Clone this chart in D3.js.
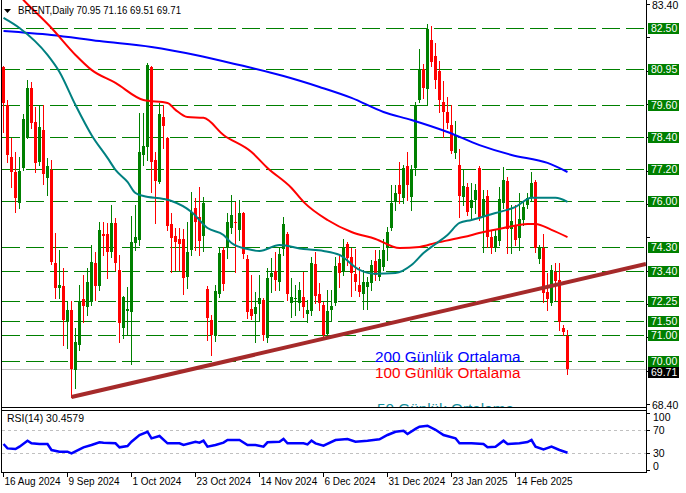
<!DOCTYPE html>
<html><head><meta charset="utf-8">
<script src="https://cdn.jsdelivr.net/npm/d3@7"></script>
<style>html,body{margin:0;padding:0;background:#fff;overflow:hidden}svg{display:block}</style>
</head><body><svg id="c" width="686" height="493"></svg>
<script>
// ---------- DATA ----------
const opens=[81.04,79.61,77.66,77.10,75.94,77.25,78.41,80.25,78.98,77.48,78.68,76.88,77.18,73.69,72.75,72.83,71.48,71.93,69.68,70.61,72.34,72.04,72.23,73.69,72.83,74.78,74.78,74.10,75.19,73.43,71.25,71.89,71.85,74.44,74.55,77.74,78.04,81.04,77.55,76.73,79.16,78.38,75.15,74.70,74.59,74.59,73.16,74.18,75.75,75.41,74.70,72.71,71.55,70.95,72.53,74.18,74.25,75.00,75.23,74.93,75.56,73.84,71.96,71.78,72.15,72.30,70.88,73.16,73.39,72.98,74.21,74.78,72.19,72.34,72.19,72.41,71.78,71.89,73.65,72.53,72.11,71.03,71.93,72.19,73.69,73.35,74.40,73.91,73.28,72.86,72.53,72.79,72.94,73.76,73.16,73.54,74.25,75.00,75.98,76.61,76.13,77.33,76.16,77.25,79.80,80.96,80.21,82.05,81.45,80.89,79.73,79.35,78.86,77.81,77.36,76.16,76.54,75.75,76.05,77.25,75.41,76.20,74.66,74.25,74.51,75.94,76.76,74.96,75.08,74.63,75.30,75.86,76.13,76.73,73.84,74.25,72.60,72.19,73.35,73.05,71.25,70.95];
const highs=[81.08,79.80,78.38,77.85,77.66,79.28,80.55,80.48,79.54,79.61,79.61,77.63,77.55,74.81,74.18,73.50,72.23,72.26,71.25,72.86,73.24,73.50,74.36,74.10,75.23,75.23,75.19,75.86,75.38,73.99,72.45,72.79,75.45,75.86,79.31,79.31,81.19,81.08,77.85,79.69,79.61,78.41,75.56,75.00,75.00,74.96,75.23,76.35,76.13,76.54,76.16,72.83,71.74,72.86,74.29,74.29,75.56,76.24,75.98,76.05,75.60,73.99,73.24,72.60,73.24,72.38,73.50,73.88,74.10,74.25,75.41,74.85,73.13,72.86,72.98,73.35,72.30,73.91,74.10,72.94,72.23,72.68,72.68,73.91,73.99,74.59,74.48,74.25,74.21,73.54,73.43,73.16,73.80,74.18,74.18,74.59,75.04,76.61,76.61,77.48,77.36,77.85,77.36,79.73,81.71,81.15,82.65,82.58,81.94,81.26,80.51,79.91,79.61,79.01,77.96,77.18,76.69,76.69,76.65,77.33,76.43,76.43,74.93,74.93,76.54,77.29,76.91,75.86,75.86,76.31,76.01,76.31,77.10,76.80,74.36,74.78,73.31,73.61,73.69,73.69,71.36,71.16];
const lows=[78.60,77.48,76.54,75.60,75.75,77.18,78.38,78.75,77.10,77.36,76.65,76.24,73.65,72.38,72.38,70.61,70.50,68.66,69.00,70.43,71.48,71.74,72.11,72.30,72.68,73.99,73.13,73.91,73.43,70.73,70.88,70.99,69.90,74.18,74.36,77.36,77.55,76.35,75.19,76.69,78.00,74.93,73.35,73.43,73.43,72.53,72.75,73.99,74.18,73.99,74.14,70.80,70.24,70.76,72.41,72.68,73.88,74.81,73.35,74.55,73.88,71.63,71.59,70.73,71.55,70.80,70.73,72.60,72.68,72.68,73.99,72.30,71.66,71.74,71.93,71.66,71.48,71.74,72.19,71.93,70.88,70.91,71.55,72.11,72.79,73.24,73.61,72.45,72.68,72.45,71.96,71.96,72.68,73.05,73.05,73.43,73.80,74.93,75.68,75.94,75.94,76.05,75.68,76.99,79.73,79.88,79.61,81.08,80.25,79.35,78.41,78.75,77.81,77.63,75.41,75.86,75.49,75.30,75.56,75.30,74.10,74.29,74.06,74.14,74.36,75.75,74.06,74.06,74.36,74.18,75.11,75.75,76.05,74.10,73.69,72.23,71.93,72.11,72.30,71.18,70.99,69.51];
const closes=[79.69,77.74,77.10,76.13,77.14,79.09,80.25,78.94,77.44,78.79,77.03,77.33,73.73,72.75,72.86,71.55,71.93,69.71,70.73,72.23,72.08,72.98,73.73,72.83,74.93,74.70,74.10,75.19,73.69,71.44,72.41,71.96,74.48,74.66,77.85,78.08,81.11,77.48,76.76,79.28,78.83,75.08,74.63,74.48,74.40,73.13,74.10,75.60,75.23,74.51,75.94,71.63,70.99,72.64,74.06,72.90,75.23,75.49,75.19,75.56,74.03,71.85,71.70,72.04,72.38,70.99,73.13,73.31,73.05,74.03,75.15,72.53,72.41,72.38,72.68,72.04,71.93,73.69,72.45,72.19,70.99,71.89,72.08,73.58,73.31,74.29,73.88,73.31,72.98,72.60,72.98,72.98,73.61,73.24,73.84,74.18,74.85,75.94,76.31,76.28,77.25,76.61,77.21,79.61,80.96,80.25,82.46,81.23,80.55,79.80,79.35,78.94,77.89,78.49,76.20,76.58,75.60,76.05,76.43,75.41,76.09,74.66,74.25,74.70,76.09,76.80,74.96,75.26,74.55,75.34,75.79,76.13,76.69,74.25,74.25,72.56,72.34,73.43,73.01,71.48,71.10,69.71];

// moving averages read at bar indices: [bar, value]
const ma200=[[0,82.39],[12,82.24],[24,82.01],[37,81.79],[48,81.49],[59,81.11],[70,80.70],[79,80.29],[87,79.88],[95,79.35],[102,79.05],[111,78.60],[119,78.11],[127,77.74],[136,77.44],[141,77.10]];
const ma100=[[0,84.37],[5,83.55],[12,82.50],[18,81.49],[22,80.93],[28,80.44],[35,79.80],[41,79.69],[43,79.43],[46,79.16],[50,79.13],[55,78.49],[62,77.85],[66,77.25],[72,76.50],[75,75.98],[81,75.30],[87,74.85],[93,74.59],[99,74.25],[104,74.29],[108,74.44],[115,74.66],[120,74.85],[125,75.00],[131,75.15],[133,75.15],[137,74.93],[141,74.66]];
const ma50=[[0,82.88],[4,82.50],[11,81.49],[14,80.85],[18,79.61],[22,78.49],[26,77.63],[28,77.18],[31,76.73],[33,76.31],[35,76.20],[40,76.09],[42,76.01],[47,75.60],[51,75.00],[55,74.74],[57,74.44],[61,74.21],[64,74.14],[69,74.36],[75,74.21],[80,74.14],[84,73.99],[89,73.43],[93,73.28],[98,73.31],[102,73.61],[105,74.06],[108,74.40],[111,74.74],[114,75.19],[117,75.30],[123,75.56],[128,75.79],[132,76.13],[138,76.13],[141,75.98]];
const rsi=[[0,45.6],[1,38],[3,36.8],[4,41],[6,51.4],[7,46.8],[9,45.6],[11,45.6],[12,35.2],[14,32.3],[16,32.3],[17,29.4],[19,36.4],[20,39.9],[22,43.9],[24,48.6],[25,48],[28,46.8],[29,39.9],[31,42.2],[32,49.7],[34,61.3],[36,67],[37,55.5],[39,59.6],[41,46.8],[44,46.8],[45,43.9],[48,49.7],[49,48],[50,51.4],[51,41],[53,43.9],[55,48],[56,52.6],[59,52.6],[61,43.9],[63,43.9],[65,41],[66,48.6],[69,49.7],[70,54.4],[71,46.8],[75,46.8],[76,45],[77,51.4],[78,46.8],[80,42.8],[83,52.6],[86,54.4],[88,49.7],[91,51.4],[94,53.8],[96,61.3],[98,67],[100,68.8],[101,63],[103,72],[104,75.8],[106,77.5],[108,70.4],[110,61.3],[113,55.5],[114,46.8],[117,46.8],[120,45.6],[121,39.9],[123,41],[125,51.4],[126,45.6],[129,46.8],[131,49],[132,52.6],[133,41],[135,36.4],[137,41],[139,35.2],[141,30.46]];

const levels=[82.50,80.95,79.60,78.40,77.20,76.00,74.30,73.40,72.25,71.50,71.00,70.00];
const priceTicks=[83.40,82.15,80.90,79.65,78.40,77.15,75.90,74.65,73.40,72.15,70.90,69.65,68.40];
const dateLabels=["16 Aug 2024","9 Sep 2024","1 Oct 2024","23 Oct 2024","14 Nov 2024","6 Dec 2024","31 Dec 2024","23 Jan 2025","14 Feb 2025"];
const dateBars=[0,16,32,48,64,80,96,112,128];
const trendBars=[17,160.6];
const trendPrices=[68.66,73.65];
const lastPrice=69.71;
const rsiLevels=[70,30];
const rsiTicks=[100,70,30,0];
const legendNames=["200 Günlük Ortalama","100 Günlük Ortalama","50 Günlük Ortalama"];

// ---------- CHART ----------
const svg=d3.select("#c");
const FONT="'Liberation Sans',Arial,sans-serif";
const x=d3.scaleLinear().domain([-0.375,160.625]).range([2,646]);
const y=d3.scaleLinear().domain([68.40,83.40]).range([404,4]);
const yr=d3.scaleLinear().domain([0,100]).range([470.25,412.75]);
const cr=v=>Math.round(v)+0.5;

const defs=svg.append("defs");
defs.append("clipPath").attr("id","cm").append("rect").attr("x",2).attr("y",0).attr("width",644).attr("height",407);
defs.append("clipPath").attr("id","cr").append("rect").attr("x",2).attr("y",410).attr("width",644).attr("height",62);

const main=svg.append("g").attr("clip-path","url(#cm)");

// horizontal level lines
main.selectAll("line.lvl").data(levels).join("line")
  .attr("x1",2).attr("x2",646).attr("y1",d=>cr(y(d))).attr("y2",d=>cr(y(d)))
  .attr("stroke","#008000").attr("stroke-width",1).attr("stroke-dasharray","18,6");
// last price line
main.append("line").attr("x1",2).attr("x2",646).attr("y1",cr(y(lastPrice))).attr("y2",cr(y(lastPrice)))
  .attr("stroke","#c0c0c0").attr("stroke-width",1);

// candles
const idx=d3.range(opens.length);
const col=i=>closes[i]>=opens[i]?"#008000":"#ff0000";
main.selectAll("line.wick").data(idx).join("line")
  .attr("x1",i=>Math.floor(x(i))+0.5).attr("x2",i=>Math.floor(x(i))+0.5)
  .attr("y1",i=>Math.round(y(highs[i]))).attr("y2",i=>Math.round(y(lows[i]))+1)
  .attr("stroke",col).attr("stroke-width",1);
main.selectAll("rect.body").data(idx).join("rect")
  .attr("x",i=>Math.floor(x(i))-1).attr("width",3)
  .attr("y",i=>Math.round(y(Math.max(opens[i],closes[i]))))
  .attr("height",i=>Math.max(1,Math.round(y(Math.min(opens[i],closes[i])))-Math.round(y(Math.max(opens[i],closes[i])))))
  .attr("fill",col);

// moving averages
const maLine=d3.line().x(d=>x(d[0])).y(d=>y(d[1])).curve(d3.curveMonotoneX);
[[ma200,"#0000ff"],[ma100,"#ff0000"],[ma50,"#008080"]].forEach(([d,c])=>{
  main.append("path").attr("d",maLine(d)).attr("fill","none").attr("stroke",c).attr("stroke-width",2);
});

// trend line
main.append("line").attr("x1",x(trendBars[0])).attr("y1",y(trendPrices[0]))
  .attr("x2",x(trendBars[1])).attr("y2",y(trendPrices[1]))
  .attr("stroke","#a52a2a").attr("stroke-width",4);

// legend texts
const legCols=["#0000ff","#ff0000","#138f9c"];
const legY=[362,378,414];
const legX=[375,375,377];
legendNames.forEach((t,k)=>{
  main.append("text").attr("x",legX[k]).attr("y",legY[k]).text(t)
    .attr("font-family",FONT).attr("font-size",15.3).attr("fill",legCols[k]);
});

// header
svg.append("path").attr("d","M4,9 L11,9 L7.5,13 Z").attr("fill","#000");
svg.append("text").attr("x",18).attr("y",14).text("BRENT,Daily  70.95 71.16 69.51 69.71")
  .attr("font-family",FONT).attr("font-size",11).attr("fill","#000").attr("textLength",163).attr("lengthAdjust","spacingAndGlyphs");

// frame
svg.append("line").attr("x1",1.5).attr("x2",1.5).attr("y1",0).attr("y2",472).attr("stroke","#000");
svg.append("line").attr("x1",646.5).attr("x2",646.5).attr("y1",0).attr("y2",473).attr("stroke","#000");
svg.append("line").attr("x1",1).attr("x2",647).attr("y1",407.5).attr("y2",407.5).attr("stroke","#000");
svg.append("line").attr("x1",1).attr("x2",647).attr("y1",410.5).attr("y2",410.5).attr("stroke","#000");
svg.append("line").attr("x1",1).attr("x2",647).attr("y1",472.5).attr("y2",472.5).attr("stroke","#000");

// price axis (labels hidden behind level boxes are not drawn)
const pa=svg.append("g");
priceTicks.forEach(v=>{
  const yy=cr(y(v));
  pa.append("line").attr("x1",646).attr("x2",650).attr("y1",yy).attr("y2",yy).attr("stroke","#000");
  const covered=levels.concat([lastPrice]).some(l=>Math.abs(y(l)-y(v))<12);
  if(!covered) pa.append("text").attr("x",652).attr("y",yy+4).text(v.toFixed(2))
    .attr("font-family",FONT).attr("font-size",10.5).attr("fill","#000");
});
levels.forEach(v=>{
  const yy=Math.round(y(v));
  pa.append("rect").attr("x",648).attr("y",yy-5).attr("width",31).attr("height",11).attr("fill","#008000");
  pa.append("text").attr("x",651).attr("y",yy+4).text(v.toFixed(2))
    .attr("font-family",FONT).attr("font-size",10.5).attr("fill","#fff");
});
{
  // last-price box sits just below the 70.00 box, as in the terminal
  const yy=Math.round(y(levels[levels.length-1]))+11;
  pa.append("rect").attr("x",648).attr("y",yy-5).attr("width",31).attr("height",11).attr("fill","#000");
  pa.append("text").attr("x",651).attr("y",yy+4).text(lastPrice.toFixed(2))
    .attr("font-family",FONT).attr("font-size",10.5).attr("fill","#fff");
}

// RSI panel
const rp=svg.append("g").attr("clip-path","url(#cr)");
rsiLevels.forEach(v=>{
  rp.append("line").attr("x1",2).attr("x2",646).attr("y1",cr(yr(v))).attr("y2",cr(yr(v)))
    .attr("stroke","#c0c0c0").attr("stroke-dasharray","3,3");
});
rp.append("path").attr("d",d3.line().x(d=>x(d[0])).y(d=>yr(d[1]))(rsi))
  .attr("fill","none").attr("stroke","#0000ff").attr("stroke-width",2.5);
svg.append("text").attr("x",7).attr("y",422).text("RSI(14) 30.4579")
  .attr("font-family",FONT).attr("font-size",10.5).attr("fill","#000");
rsiTicks.forEach(v=>{
  let yy=yr(v); if(v===100) yy+=4; if(v===0) yy-=4;
  svg.append("line").attr("x1",646).attr("x2",650).attr("y1",cr(yr(v))).attr("y2",cr(yr(v))).attr("stroke","#000");
  svg.append("text").attr("x",653).attr("y",yy+4).text(v)
    .attr("font-family",FONT).attr("font-size",10.5).attr("fill","#000");
});

// date axis
dateBars.forEach((b,k)=>{
  const xx=Math.floor(x(b))+0.5;
  svg.append("line").attr("x1",xx).attr("x2",xx).attr("y1",472).attr("y2",477).attr("stroke","#000");
  svg.append("text").attr("x",xx+1).attr("y",485).text(dateLabels[k])
    .attr("font-family",FONT).attr("font-size",10).attr("fill","#000");
});
</script></body></html>
